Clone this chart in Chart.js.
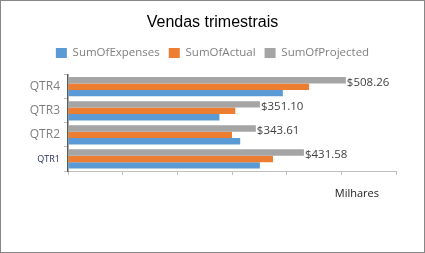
<!DOCTYPE html>
<html>
<head>
<meta charset="utf-8">
<script src="https://cdn.jsdelivr.net/npm/chart.js@4/dist/chart.umd.min.js"></script>
<style>
  html, body { margin: 0; padding: 0; background: #fff; }
  #wrap { width: 425px; height: 253px; box-sizing: border-box; border: 1px solid #878787; background: #fff; }
  canvas { display: block; }
</style>
</head>
<body>
<div id="wrap"><canvas id="c" width="423" height="251"></canvas></div>
<script>
const categories = ['QTR1', 'QTR2', 'QTR3', 'QTR4'];
const expenses  = [351, 315, 277, 393];
const actual    = [375, 300, 306, 441];
const projected = [431.58, 343.61, 351.10, 508.26];
const xTicks = [0, 100, 200, 300, 400, 500, 600];

const labelFont = '"Open Sans", "Noto Sans", sans-serif';

const valueLabels = {
  id: 'valueLabels',
  beforeLayout(chart) {
    const lg = chart.legend;
    if (lg && !lg._patched) {
      const f = lg.fit;
      lg.fit = function () { f.call(this); this.height += 6; };
      lg._patched = true;
    }
  },
  afterDatasetsDraw(chart) {
    const ctx = chart.ctx;
    const meta = chart.getDatasetMeta(0); // projected
    ctx.save();
    ctx.font = '11.5px ' + labelFont;
    ctx.fillStyle = '#404040';
    ctx.textAlign = 'left';
    ctx.textBaseline = 'middle';
    meta.data.forEach((el, i) => {
      const v = chart.data.datasets[0].data[i];
      ctx.fillText('$' + v.toFixed(2), el.x + 1, el.y + 2);
    });
    ctx.restore();
  },
  afterDraw(chart) {
    const ctx = chart.ctx;
    const xs = chart.scales.x;
    ctx.save();
    ctx.font = '11px ' + labelFont;
    ctx.fillStyle = '#1a1a1a';
    ctx.textAlign = 'right';
    ctx.textBaseline = 'middle';
    ctx.fillText('Milhares', xs.right - 17, chart.chartArea.bottom + 23);
    ctx.restore();
  }
};

new Chart(document.getElementById('c'), {
  type: 'bar',
  data: {
    labels: categories,
    datasets: [
      { label: 'SumOfProjected', data: projected, backgroundColor: '#A5A5A5' },
      { label: 'SumOfActual', data: actual, backgroundColor: '#ED7D31' },
      { label: 'SumOfExpenses', data: expenses, backgroundColor: '#5B9BD5' }
    ]
  },
  options: {
    indexAxis: 'y',
    responsive: false,
    animation: false,
    devicePixelRatio: 1,
    categoryPercentage: 0.8,
    barPercentage: 1.0,
    layout: { padding: { left: 0, right: 0, top: 2, bottom: 77 } },
    plugins: {
      title: {
        display: true,
        text: 'Vendas trimestrais',
        color: '#000',
        font: { family: '"Liberation Sans", Arial, sans-serif', size: 16, weight: 'normal' },
        padding: { top: 10, bottom: 6 }
      },
      legend: {
        display: true,
        position: 'top',
        labels: {
          boxWidth: 11,
          boxHeight: 10,
          padding: 9,
          color: '#7f7f7f',
          font: { family: labelFont, size: 11.5 },
          sort: (a, b) => b.datasetIndex - a.datasetIndex
        }
      },
      tooltip: { enabled: false }
    },
    scales: {
      x: {
        min: 0,
        max: 600,
        afterBuildTicks: (scale) => { scale.ticks = xTicks.map(v => ({ value: v })); },
        ticks: { display: false },
        grid: { display: true, drawOnChartArea: false, drawTicks: true, tickLength: 4, color: '#bfbfbf', tickColor: '#bfbfbf' },
        border: { display: true, color: '#bfbfbf', width: 1 }
      },
      y: {
        reverse: true,
        afterFit: (scale) => { scale.width = 67; },
        ticks: {
          padding: 4,
          color: (c) => c.index === 0 ? '#1f2a5a' : '#7f7f7f',
          font: (c) => c.index === 0 ? { family: labelFont, size: 9 } : { family: labelFont, size: 12 }
        },
        grid: { display: true, offset: true, drawOnChartArea: false, drawTicks: true, tickLength: 4, color: '#bfbfbf', tickColor: '#bfbfbf' },
        border: { display: true, color: '#595959', width: 1.5 }
      },
      yRight: {
        type: 'category',
        position: 'right',
        display: true,
        afterFit: (scale) => { scale.width = 28; },
        ticks: { display: false },
        grid: { display: false },
        border: { display: false }
      }
    }
  },
  plugins: [valueLabels]
});
</script>
</body>
</html>
